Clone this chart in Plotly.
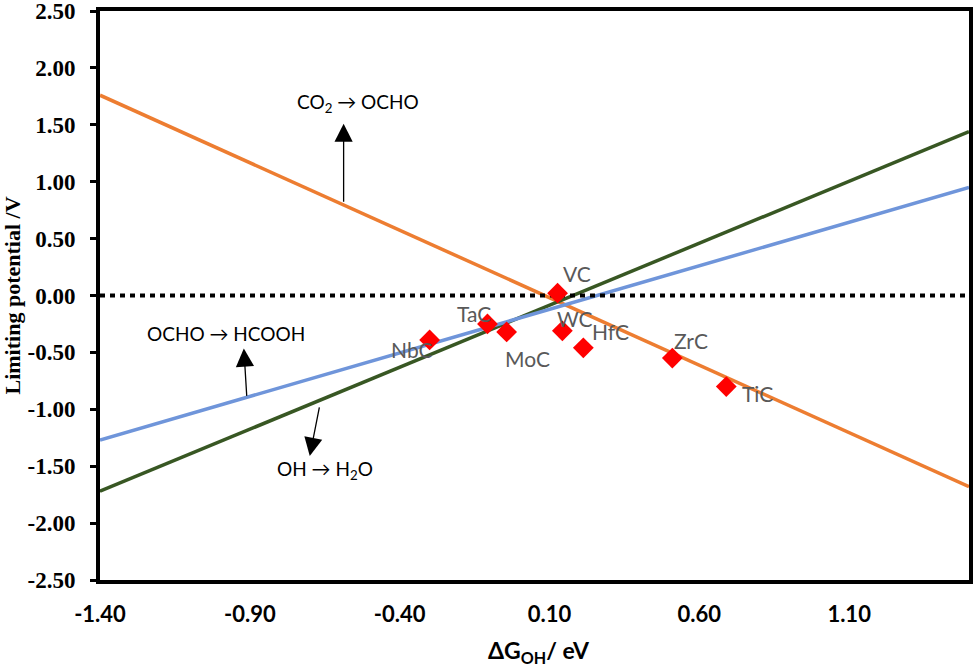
import plotly.graph_objects as go

# ---- data ----
x_line = [-1.40, 1.50]
co2_ocho = [1.76, -1.68]
oh_h2o = [-1.72, 1.44]
ocho_hcooh = [-1.27, 0.95]

catalysts = ["VC", "TaC", "MoC", "NbC", "WC", "HfC", "ZrC", "TiC"]
dG_OH = [0.127, -0.107, -0.043, -0.30, 0.143, 0.213, 0.51, 0.69]
U_L = [0.02, -0.25, -0.32, -0.39, -0.31, -0.46, -0.55, -0.80]

x_ticks = [-1.40, -0.90, -0.40, 0.10, 0.60, 1.10]
y_ticks = [2.5, 2.0, 1.5, 1.0, 0.5, 0.0, -0.5, -1.0, -1.5, -2.0, -2.5]

# label offsets (pixels) for catalyst names
label_offsets = {
    "VC": (19, 20), "TaC": (-13, 10), "MoC": (21, -27), "NbC": (-18, -10),
    "WC": (13, 12), "HfC": (27, 16), "ZrC": (19, 18), "TiC": (31, -7),
}

SANS = "Lato, Noto Sans, sans-serif"
SERIF = "Liberation Serif"

fig = go.Figure()

fig.add_trace(go.Scatter(x=x_line, y=co2_ocho, mode="lines",
                         line=dict(color="#ED7D31", width=3.5), showlegend=False))
fig.add_trace(go.Scatter(x=x_line, y=oh_h2o, mode="lines",
                         line=dict(color="#385723", width=3.5), showlegend=False))
fig.add_trace(go.Scatter(x=x_line, y=ocho_hcooh, mode="lines",
                         line=dict(color="#6F95DA", width=3.5), showlegend=False))

# zero reference line
fig.add_trace(go.Scatter(x=x_line, y=[0, 0], mode="lines",
                         line=dict(color="black", width=4, dash="5px,5px"), showlegend=False))

fig.add_trace(go.Scatter(x=dG_OH, y=U_L, mode="markers",
                         marker=dict(symbol="diamond", size=16, color="#FF0000"),
                         showlegend=False))

for name, xv, yv in zip(catalysts, dG_OH, U_L):
    dx, dy = label_offsets[name]
    fig.add_annotation(x=xv, y=yv, text=name, showarrow=False,
                       xshift=dx, yshift=dy,
                       font=dict(family=SANS, size=21, color="#595959"))

# reaction annotations with arrows
arrows = [
    # (text, text_x, text_y, tail_x, tail_y, tip_x, tip_y)
    ("CO<sub>2</sub> → OCHO", -0.54, 1.69, -0.587, 0.81, -0.587, 1.51),
    ("OCHO → HCOOH", -0.98, -0.33, -0.91, -0.895, -0.92, -0.465),
    ("OH → H<sub>2</sub>O", -0.65, -1.53, -0.667, -0.97, -0.70, -1.41),
]
for txt, tx, ty, ax_, ay_, hx, hy in arrows:
    fig.add_annotation(x=tx, y=ty, text=txt, showarrow=False,
                       font=dict(family=SANS, size=19, color="black"))
    fig.add_annotation(x=hx, y=hy, ax=ax_, ay=ay_, axref="x", ayref="y",
                       xref="x", yref="y", text="", showarrow=True,
                       arrowhead=2, arrowsize=2.8, arrowwidth=1.3, arrowcolor="black")

# x-axis title
fig.add_annotation(xref="paper", yref="paper", x=0.505, y=-0.125, yanchor="middle",
                   text="<b>ΔG<sub>OH</sub>/ eV</b>", showarrow=False,
                   font=dict(family=SANS, size=23, color="black"))

fig.update_layout(
    width=975, height=668,
    margin=dict(l=100, r=6, t=11, b=88, autoexpand=False),
    paper_bgcolor="white", plot_bgcolor="white",
    xaxis=dict(range=[-1.40, 1.50], tickvals=x_ticks,
               ticktext=[f"<b>{v:.2f}</b>" for v in x_ticks],
               showgrid=False, zeroline=False, ticks="",
               showline=True, linecolor="black", linewidth=4, mirror=True,
               tickfont=dict(family=SANS, size=22, color="black"),
               ticklabelstandoff=12, automargin=False),
    yaxis=dict(range=[-2.5, 2.5], tickvals=y_ticks,
               ticktext=[f"<b>{v:.2f}</b>" for v in y_ticks],
               showgrid=False, zeroline=False, ticks="outside", ticklen=6,
               tickwidth=3, tickcolor="black",
               showline=True, linecolor="black", linewidth=4, mirror=True,
               tickfont=dict(family=SERIF, size=23, color="black"),
               ticklabelstandoff=10, ticklabeloverflow="allow", automargin=False,
               title=dict(text="<b>Limiting potential /V</b>",
                          font=dict(family=SERIF, size=22, color="black"),
                          standoff=10)),
)

fig.write_html("out.html", config={"displayModeBar": False},
               post_script="document.body.style.margin='0px';")
